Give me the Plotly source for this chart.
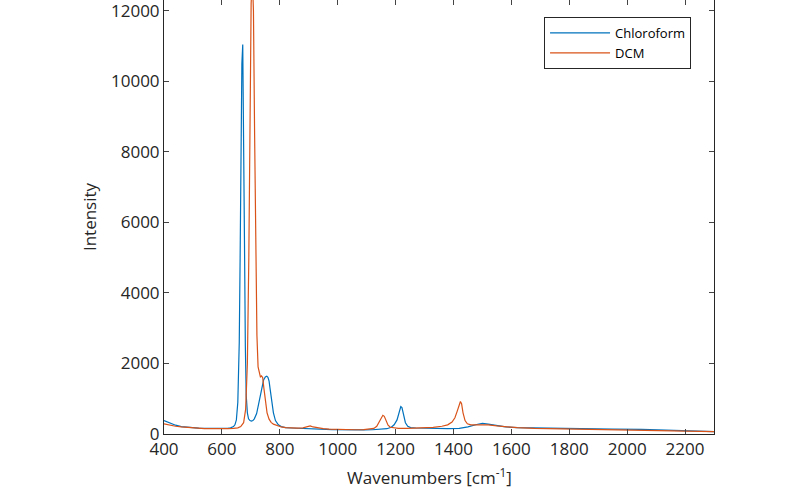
import plotly.graph_objects as go

# Chloroform spectrum
chloro_x = [400, 420, 440, 460, 480, 500, 520, 540, 560, 580, 600, 620, 630, 640, 645, 650, 655, 660, 663, 666,
            669, 672, 675, 678, 681, 684, 688, 692, 697, 702, 707, 712, 720, 728, 736, 744, 750, 755, 759, 763,
            767, 772, 778, 785, 795, 805, 820, 840, 860, 880, 900, 920, 940, 960, 980, 1000, 1030, 1060, 1090, 1120,
            1150, 1170, 1185, 1195, 1205, 1212, 1218, 1222, 1227, 1234, 1242, 1252, 1270, 1300, 1340, 1380, 1420, 1450, 1480, 1500,
            1520, 1550, 1580, 1620, 1680, 1750, 1850, 1950, 2050, 2150, 2250, 2300]
chloro_y = [380, 310, 250, 210, 190, 175, 165, 160, 155, 150, 150, 160, 175, 210, 260, 400, 900, 2600, 5000, 8000,
            10500, 11050, 9000, 5500, 2500, 1100, 600, 430, 380, 365, 380, 430, 580, 880, 1230, 1530, 1620, 1640, 1610, 1500,
            1250, 900, 600, 380, 260, 210, 180, 170, 160, 155, 160, 150, 140, 130, 125, 120, 118, 115, 115, 120,
            130, 150, 190, 260, 400, 620, 780, 750, 550, 320, 220, 180, 170, 160, 150, 150, 160, 200, 270, 300,
            280, 230, 200, 180, 170, 160, 150, 140, 130, 110, 90, 70]

# DCM spectrum
dcm_x = [400, 420, 440, 460, 480, 500, 520, 540, 560, 580, 600, 620, 640, 655, 665, 675, 682, 688, 693, 697,
         701, 705, 709, 713, 717, 721, 725, 729, 733, 737, 741, 745, 750, 756, 763, 770, 778, 786, 795, 805,
         820, 840, 860, 880, 895, 905, 915, 930, 950, 970, 1000, 1030, 1060, 1090, 1110, 1125, 1135, 1143, 1150, 1156,
         1161, 1167, 1174, 1182, 1195, 1210, 1240, 1270, 1300, 1330, 1360, 1380, 1395, 1405, 1413, 1419, 1424, 1428, 1433, 1440,
         1448, 1460, 1480, 1500, 1520, 1550, 1580, 1620, 1680, 1750, 1850, 1950, 2050, 2150, 2250, 2300]
dcm_y = [290, 250, 220, 200, 185, 170, 160, 155, 150, 145, 145, 150, 160, 175, 210, 320, 700, 2000, 5000, 9000,
         12200, 13000, 12000, 8500, 5000, 2800, 1900, 1700, 1620, 1650, 1600, 1300, 900, 600, 420, 330, 280, 250, 220, 200,
         180, 170, 165, 175, 210, 230, 200, 170, 150, 140, 130, 125, 120, 125, 135, 160, 220, 330, 460, 530,
         500, 380, 250, 190, 170, 160, 160, 165, 170, 190, 220, 260, 340, 460, 650, 820, 920, 860, 600, 380,
         290, 260, 260, 270, 260, 230, 200, 180, 160, 150, 140, 130, 110, 100, 80, 70]

x_ticks = [400, 600, 800, 1000, 1200, 1400, 1600, 1800, 2000, 2200]
y_ticks = [0, 2000, 4000, 6000, 8000, 10000, 12000]

assert len(chloro_x) == len(chloro_y)
assert len(dcm_x) == len(dcm_y)

axis_col = "#262626"
font_family = "Open Sans"

fig = go.Figure()
fig.add_trace(go.Scatter(x=chloro_x, y=chloro_y, mode="lines", name="Chloroform",
                         line=dict(color="#0072BD", width=1.2)))
fig.add_trace(go.Scatter(x=dcm_x, y=dcm_y, mode="lines", name="DCM",
                         line=dict(color="#D95319", width=1.2)))

fig.update_layout(
    width=800, height=487,
    margin=dict(l=164, r=86, t=0, b=53),
    paper_bgcolor="white", plot_bgcolor="white",
    font=dict(family=font_family, color=axis_col, size=17),
    showlegend=True,
    legend=dict(x=0.691, y=0.961, xanchor="left", yanchor="top",
                bgcolor="white", bordercolor=axis_col, borderwidth=1,
                itemwidth=60,
                font=dict(size=13, color="#000000"), tracegroupgap=0),
    xaxis=dict(range=[400, 2300], tickvals=x_ticks, ticktext=[str(v) for v in x_ticks],
               ticks="inside", ticklen=5,
               showline=True, linecolor=axis_col, linewidth=1, mirror="ticks",
               showgrid=False, zeroline=False,
               tickfont=dict(size=17, color=axis_col)),
    yaxis=dict(range=[0, 12310], tickvals=y_ticks, ticktext=[str(v) for v in y_ticks],
               ticks="inside", ticklen=5, ticklabeloverflow="allow",
               showline=True, linecolor=axis_col, linewidth=1, mirror="ticks",
               showgrid=False, zeroline=False,
               tickfont=dict(size=17, color=axis_col),
               title=dict(text="Intensity", font=dict(size=17, color=axis_col), standoff=10)),
    annotations=[dict(text="Wavenumbers [cm<sup>-1</sup>]", xref="paper", yref="paper",
                      x=0.4836, y=-0.0968, xanchor="center", yanchor="middle", showarrow=False,
                      borderpad=0,
                      font=dict(size=17, color=axis_col, family=font_family))],
)

fig.write_html("out.html")
